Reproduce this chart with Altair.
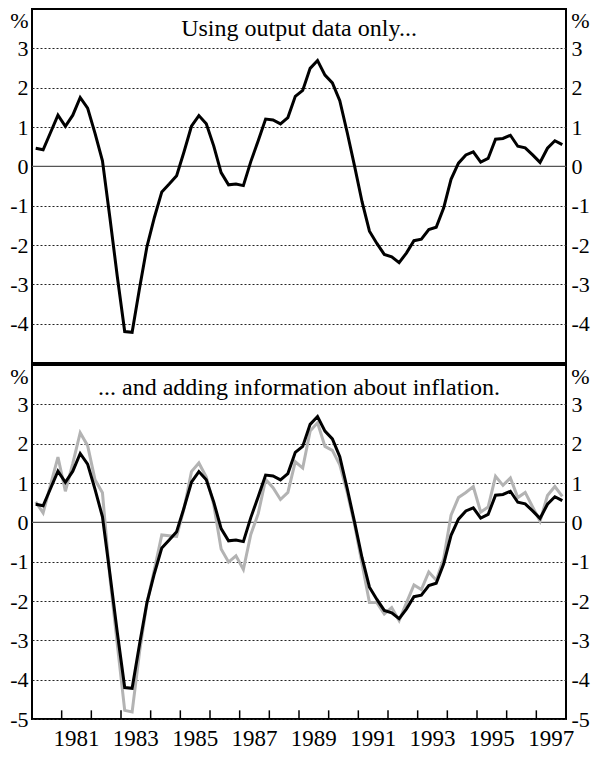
import altair as alt
import pandas as pd

# Quarterly observations, 1980Q1 .. 1997Q4
start_year = 1980
n_quarters = 72
quarter_pos = [start_year + 0.125 + 0.25 * i for i in range(n_quarters)]

output_only = [
    0.46, 0.42, 0.86, 1.30, 1.02, 1.30, 1.75, 1.48, 0.84, 0.14,
    -1.30, -2.80, -4.20, -4.22, -3.10, -2.04, -1.30, -0.65, -0.45, -0.24,
    0.37, 1.02, 1.29, 1.08, 0.52, -0.16, -0.47, -0.45, -0.49, 0.12,
    0.65, 1.20, 1.18, 1.08, 1.24, 1.78, 1.93, 2.49, 2.69, 2.32,
    2.12, 1.67, 0.86, 0.00, -0.90, -1.65, -1.96, -2.24, -2.30, -2.45,
    -2.20, -1.89, -1.85, -1.61, -1.55, -1.06, -0.33, 0.08, 0.29, 0.37,
    0.11, 0.20, 0.69, 0.71, 0.79, 0.51, 0.47, 0.29, 0.10, 0.46,
    0.65, 0.55,
]

with_inflation = [
    0.52, 0.24, 0.95, 1.66, 0.79, 1.50, 2.28, 1.95, 1.08, 0.75,
    -1.40, -3.10, -4.78, -4.82, -3.30, -2.05, -1.20, -0.32, -0.34, -0.36,
    0.35, 1.29, 1.51, 1.15, 0.45, -0.68, -1.01, -0.85, -1.20, -0.31,
    0.22, 1.09, 0.88, 0.58, 0.76, 1.54, 1.38, 2.32, 2.53, 1.93,
    1.83, 1.46, 0.76, -0.07, -1.05, -2.04, -2.04, -2.33, -2.17, -2.50,
    -2.04, -1.59, -1.71, -1.26, -1.47, -0.93, 0.18, 0.63, 0.76, 0.91,
    0.26, 0.39, 1.17, 0.94, 1.13, 0.63, 0.76, 0.39, 0.03, 0.68,
    0.91, 0.66,
]

top_ticks = [-4, -3, -2, -1, 0, 1, 2, 3]
bottom_ticks = [-5, -4, -3, -2, -1, 0, 1, 2, 3]
year_ticks = list(range(1981, 1998))
year_labels = ["1981", "1983", "1985", "1987", "1989", "1991", "1993", "1995", "1997"]
panel_titles = ["Using output data only...", "... and adding information about inflation."]
title_years = [1989, 1989]
title_levels = [3.49, 3.42]

FONT = "Liberation Serif"
FS = 22
TFS = 24
W, H = 534, 354

xscale = alt.Scale(domain=[1980, 1998], nice=False, zero=False)
yscale = alt.Scale(domain=[-5, 4], nice=False, zero=False)


def yenc(field, axis=None):
    return alt.Y(field, type="quantitative", scale=yscale, axis=axis)


def xenc(field):
    return alt.X(field, type="quantitative", scale=xscale, axis=None)


def left_axis(vals):
    return alt.Axis(
        orient="left", values=vals, grid=True, gridDash=[2, 2], gridColor="#222",
        gridWidth=1, labelPadding=4, labelFont=FONT, labelFontSize=FS,
        labelColor="black", ticks=False, domain=False,
        labelExpr="datum.value + ''",
        title="%", titleAngle=0, titleX=-13, titleY=11, titleAlign="center",
        titleBaseline="middle", titleFont=FONT, titleFontSize=FS,
        titleFontWeight="normal", titleColor="black",
    )


def right_axis(vals):
    return alt.Axis(
        orient="right", values=vals, grid=False, labelPadding=5, labelFont=FONT,
        labelFontSize=FS, labelColor="black", ticks=False, domain=False,
        labelExpr="datum.value + ''",
        title="%", titleAngle=0, titleX=14, titleY=11, titleAlign="center",
        titleBaseline="middle", titleFont=FONT, titleFontSize=FS,
        titleFontWeight="normal", titleColor="black",
    )


df = pd.DataFrame({"t": quarter_pos, "out": output_only, "infl": with_inflation})


def panel(idx, ticks, with_grey_and_years):
    zero = alt.Chart(pd.DataFrame({"v": [0]})).mark_rule(
        color="#555", strokeWidth=1.2
    ).encode(y=yenc("v:Q", right_axis(ticks)))

    layers = [zero]
    if with_grey_and_years:
        layers.append(
            alt.Chart(df).mark_line(color="#b3b3b3", strokeWidth=3).encode(
                x=xenc("t:Q"), y=yenc("infl:Q")
            )
        )
    layers.append(
        alt.Chart(df).mark_line(color="black", strokeWidth=3).encode(
            x=xenc("t:Q"), y=yenc("out:Q", left_axis(ticks))
        )
    )
    if with_grey_and_years:
        tdf = pd.DataFrame({"t": year_ticks, "y0": [-5] * len(year_ticks),
                            "y1": [-4.78] * len(year_ticks)})
        layers.append(
            alt.Chart(tdf).mark_rule(color="black", strokeWidth=1.5).encode(
                x=xenc("t:Q"), y=yenc("y0:Q"), y2="y1:Q"
            )
        )
        ldf = pd.DataFrame({"t": [int(s) + 0.5 for s in year_labels],
                            "v": [-5] * len(year_labels), "label": year_labels})
        layers.append(
            alt.Chart(ldf).mark_text(font=FONT, fontSize=23, color="black",
                                     align="center", baseline="top", dy=9).encode(
                x=xenc("t:Q"), y=yenc("v:Q"), text="label:N"
            )
        )
    ttl = pd.DataFrame({"t": [title_years[idx]], "v": [title_levels[idx]],
                        "label": [panel_titles[idx]]})
    layers.append(
        alt.Chart(ttl).mark_text(font=FONT, fontSize=TFS, color="black",
                                 align="center", baseline="middle").encode(
            x=xenc("t:Q"), y=yenc("v:Q"), text="label:N"
        )
    )
    return alt.layer(*layers).resolve_scale(y="independent").properties(
        width=W, height=H
    )


top = panel(0, top_ticks, False)
bottom = panel(1, bottom_ticks, True)

chart = alt.vconcat(top, bottom, spacing=0).configure_view(
    stroke="black", strokeWidth=2
).properties(padding=0)

chart.save("out.html", embed_options={"renderer": "svg", "actions": False})
